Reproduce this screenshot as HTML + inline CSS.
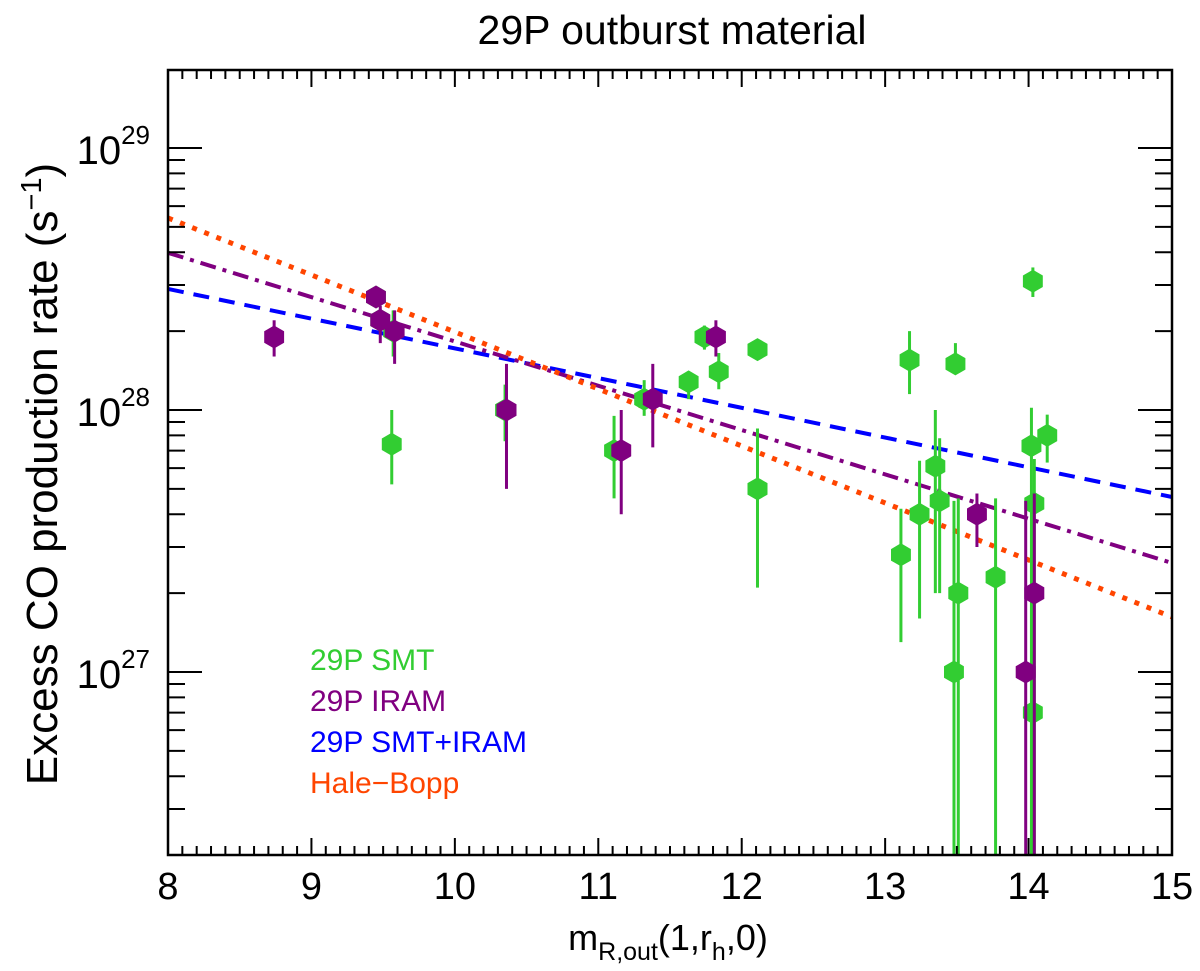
<!DOCTYPE html>
<html><head><meta charset="utf-8"><style>
body{margin:0;background:#fff;}
svg{display:block;font-family:"Liberation Sans",sans-serif;}
</style></head><body>
<svg id="chart" width="1200" height="971" viewBox="0 0 1200 971" xmlns="http://www.w3.org/2000/svg">
<text x="672" y="44" font-size="41" text-anchor="middle">29P outburst material</text>
<g id="grid"></g><g id="lines"></g><g id="marks"></g><g id="axes"></g>
<text x="668" y="950" font-size="36" text-anchor="middle">m<tspan font-size="25" dy="10">R,out</tspan><tspan dy="-10">(1,r</tspan><tspan font-size="25" dy="10">h</tspan><tspan dy="-10">,0)</tspan></text>
<text transform="translate(57,474) rotate(-90)" font-size="44" text-anchor="middle">Excess CO production rate (s<tspan font-size="29" dy="-16">−1</tspan><tspan dy="16">)</tspan></text>
<g font-size="30">
<text x="310" y="670" fill="#32cd32">29P SMT</text>
<text x="310" y="711" fill="#800080">29P IRAM</text>
<text x="310" y="752" fill="#0000ff">29P SMT+IRAM</text>
<text x="310" y="793" fill="#ff4500">Hale−Bopp</text>
</g>
</svg>
<script>
const smtX=[9.45,9.48,9.57,9.56,10.35,11.11,11.32,11.63,11.74,11.84,12.11,12.11,13.11,13.17,13.24,13.35,13.38,13.49,13.48,13.51,13.77,14.03,14.02,14.13,14.04,14.03];
const smtY=[2.7e28,2.2e28,2.0e28,7.4e27,1.0e28,7.0e27,1.1e28,1.28e28,1.9e28,1.4e28,1.7e28,5.0e27,2.8e27,1.55e28,4.0e27,6.1e27,4.5e27,1.5e28,1.0e27,2.0e27,2.3e27,3.1e28,7.3e27,8.0e27,4.4e27,7.0e26];
const smtLo=[2.5e28,2.0e28,1.6e28,5.2e27,7.6e27,4.6e27,9.5e27,1.1e28,1.7e28,1.2e28,1.6e28,2.1e27,1.3e27,1.15e28,1.6e27,2.0e27,2.0e27,1.4e28,1e26,1e26,1e26,2.7e28,1e26,6.3e27,1e26,1e26];
const smtHi=[2.9e28,2.4e28,2.4e28,1.0e28,1.25e28,9.5e27,1.3e28,1.4e28,2.1e28,1.65e28,1.8e28,8.5e27,4.2e27,2.0e28,6.4e27,1.0e28,7.8e27,1.8e28,4.5e27,4.6e27,4.6e27,3.5e28,1.02e28,9.6e27,6.5e27,1.2e27];
const iramX=[8.74,9.45,9.48,9.58,10.36,11.16,11.38,11.82,13.64,13.98,14.04];
const iramY=[1.9e28,2.7e28,2.2e28,2.0e28,1.0e28,7.0e27,1.1e28,1.9e28,4.0e27,1.0e27,2.0e27];
const iramLo=[1.6e28,2.5e28,1.8e28,1.5e28,5.0e27,4.0e27,7.2e27,1.6e28,3.0e27,1e26,1e26];
const iramHi=[2.2e28,2.9e28,2.5e28,2.4e28,1.5e28,1.0e28,1.5e28,2.2e28,4.8e27,4.5e27,4.8e27];
const fitEnds=[[28.462,27.668],[28.60,27.416],[28.733,27.21]];
const xTicks=[8,9,10,11,12,13,14,15];
const yTicks=[27,28,29];
const NS="http://www.w3.org/2000/svg";
const X0=168,X1=1172,YT=70,YB=855;
const sx=v=>X0+(v-8)*(X1-X0)/7;
const ly=v=>148+(29-v)*262;
const sy=v=>Math.min(YB,Math.max(YT,ly(Math.log10(v))));
function mk(tag,attrs,parent){const e=document.createElementNS(NS,tag);for(const k in attrs)e.setAttribute(k,attrs[k]);document.getElementById(parent).appendChild(e);return e;}
const fitStyles=[["#0000ff","16 10",4],["#800080","16 7 4 7",4],["#ff4500","5 8",5]];
const fitNames=['fit-smt-iram','fit-iram','fit-hale-bopp'];
fitEnds.forEach((f,i)=>{const l=mk('line',{x1:sx(8),y1:ly(f[0]),x2:sx(15),y2:ly(f[1]),stroke:fitStyles[i][0],'stroke-width':fitStyles[i][2],'stroke-dasharray':fitStyles[i][1]},'lines');

});
function hex(cx,cy,r){let p=[];for(let k=0;k<6;k++){const a=Math.PI/2+k*Math.PI/3;p.push((cx+r*Math.cos(a)).toFixed(1)+','+(cy+r*Math.sin(a)).toFixed(1));}return p.join(' ');}
function series(xs,ys,lo,hi,col,name){
 xs.forEach((x,i)=>{
  const e=mk('line',{x1:sx(x),x2:sx(x),y1:sy(lo[i]),y2:sy(hi[i]),stroke:col,'stroke-width':3},'marks');
  
  
  const h=mk('polygon',{points:hex(sx(x),sy(ys[i]),11.5),fill:col},'marks');
  
  
 });
}
series(smtX,smtY,smtLo,smtHi,'#32cd32','smt');
series(iramX,iramY,iramLo,iramHi,'#800080','iram');
const fr=mk('rect',{x:X0,y:YT,width:X1-X0,height:YB-YT,fill:'none',stroke:'#000','stroke-width':2.5},'axes');


for(let v=8;v<=15.001;v+=0.1){const x=sx(v);const major=Math.abs(v-Math.round(v))<0.01;const L=major?17:9;
 mk('line',{x1:x,x2:x,y1:YB,y2:YB-L,stroke:'#000','stroke-width':2},'axes');
 mk('line',{x1:x,x2:x,y1:YT,y2:YT+L,stroke:'#000','stroke-width':2},'axes');}
xTicks.forEach(t=>{const e=mk('text',{x:sx(t),y:YB+44,'font-size':38,'text-anchor':'middle'},'axes');e.textContent=t;
 
 });
for(let d=26;d<=29;d++)for(let m=1;m<=9;m++){const y=ly(d+Math.log10(m));if(y<YT||y>YB)continue;const L=m==1?34:17;
 mk('line',{x1:X0,x2:X0+L,y1:y,y2:y,stroke:'#000','stroke-width':2},'axes');
 mk('line',{x1:X1,x2:X1-L,y1:y,y2:y,stroke:'#000','stroke-width':2},'axes');}
yTicks.forEach(t=>{const e=mk('text',{x:150,y:ly(t)+16,'font-size':40,'text-anchor':'end'},'axes');e.innerHTML='10<tspan font-size="26" dy="-20">'+t+'</tspan>';
 
 });
</script>
</body></html>
